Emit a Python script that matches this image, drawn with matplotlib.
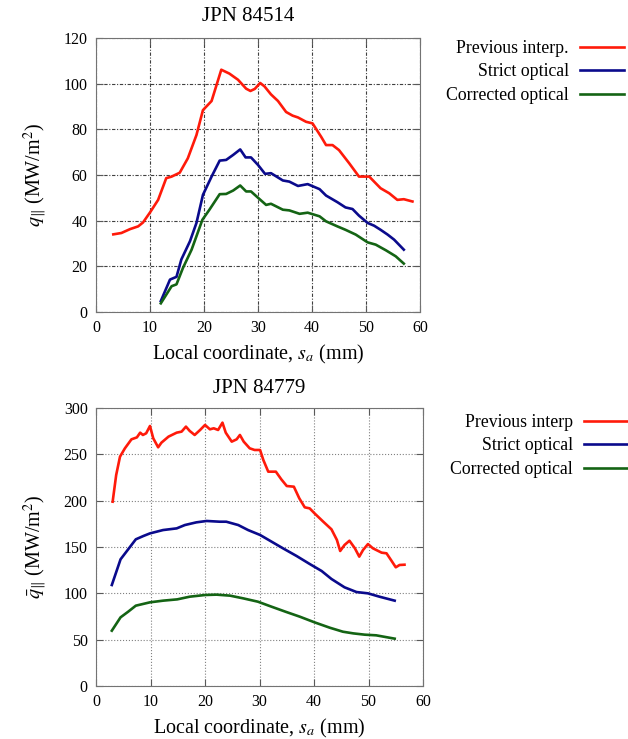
import numpy as np
import matplotlib
matplotlib.use('Agg')
import matplotlib.pyplot as plt

plt.rcParams['font.family'] = ['Liberation Serif', 'DejaVu Serif']
plt.rcParams['mathtext.fontset'] = 'stix'

# JPN 84514
x_prev1 = [3.2, 4.7, 6.3, 7.8, 8.7, 10.0, 11.5, 13.0, 14.0, 15.5, 17.0, 18.6, 19.8, 21.4, 23.2,
           24.7, 26.3, 27.8, 28.6, 29.4, 30.4, 31.2, 32.4, 33.7, 35.2, 36.4, 37.4, 38.9, 40.1,
           41.7, 42.6, 43.8, 45.0, 46.9, 48.7, 50.6, 51.5, 52.7, 54.3, 55.8, 57.0, 58.6]
y_prev1 = [34.0, 34.6, 36.3, 37.5, 39.2, 43.6, 49.1, 58.6, 59.3, 61.0, 67.3, 77.5, 88.4, 92.4, 106.1,
           104.4, 101.7, 97.8, 96.8, 97.7, 100.3, 98.8, 95.3, 92.4, 87.6, 86.0, 85.2, 83.3, 82.6,
           76.7, 73.1, 73.1, 70.9, 65.1, 59.3, 59.3, 57.1, 54.2, 52.0, 49.1, 49.4, 48.4]

x_strict1 = [12.0, 13.7, 14.9, 15.8, 17.4, 18.6, 19.8, 21.4, 22.9, 24.1, 25.4, 26.7, 27.7, 28.7,
             30.0, 31.3, 32.4, 34.6, 35.8, 37.4, 39.2, 41.4, 42.6, 44.7, 46.2, 47.5, 48.7, 50.3,
             51.5, 52.7, 54.0, 55.2, 57.0]
y_strict1 = [4.8, 14.2, 15.4, 23.0, 31.0, 39.0, 51.3, 59.3, 66.3, 66.6, 68.8, 71.2, 67.7, 67.7,
             64.4, 60.5, 60.8, 57.6, 57.1, 55.2, 56.0, 53.8, 51.0, 48.1, 45.8, 45.1, 42.2, 39.0,
             37.8, 36.0, 33.9, 31.7, 27.3]

x_corr1 = [12.0, 14.0, 14.9, 16.1, 17.7, 19.7, 21.0, 22.9, 24.1, 25.4, 26.7, 27.8, 28.7, 30.3,
           31.5, 32.4, 34.6, 35.8, 37.7, 39.2, 41.4, 42.6, 44.7, 46.2, 48.1, 50.3, 51.8, 53.7,
           55.5, 57.0]
y_corr1 = [3.8, 11.3, 12.1, 19.3, 27.3, 40.4, 44.8, 51.6, 51.7, 53.2, 55.4, 52.8, 52.8, 49.4,
           46.9, 47.4, 44.8, 44.5, 43.0, 43.5, 41.9, 39.7, 37.5, 36.0, 33.9, 30.5, 29.5, 27.0,
           24.4, 21.2]

# JPN 84779
x_prev2 = [3.05, 3.7, 4.4, 5.3, 6.5, 7.5, 8.1, 8.6, 9.2, 9.9, 10.5, 11.4, 12.0, 13.3, 14.8, 15.7,
           16.5, 17.2, 18.1, 19.1, 20.0, 20.9, 21.6, 22.4, 23.2, 23.8, 24.9, 25.8, 26.4, 27.1,
           28.2, 29.1, 30.1, 30.7, 31.6, 33.0, 34.0, 35.0, 36.3, 37.3, 38.3, 39.2, 40.1, 41.7,
           43.2, 44.2, 44.8, 45.6, 46.5, 47.5, 48.3, 49.0, 49.9, 50.8, 52.4, 53.3, 54.2, 55.0,
           55.7, 56.6]
y_prev2 = [198.9, 227.7, 247.5, 256.5, 266.2, 268.3, 273.4, 270.9, 272.7, 280.6, 267.3, 257.6,
           262.6, 269.1, 273.4, 274.5, 279.9, 275.2, 270.9, 276.3, 281.7, 277.0, 278.1, 276.3,
           284.2, 273.4, 263.7, 266.2, 270.9, 263.7, 256.5, 254.7, 254.7, 243.9, 231.3, 231.3,
           223.0, 215.8, 215.1, 202.5, 192.8, 191.7, 186.3, 177.3, 169.1, 157.6, 145.7, 152.2,
           156.8, 148.6, 139.6, 146.8, 153.2, 148.6, 143.9, 143.2, 135.3, 128.1, 130.6, 130.9]

x_strict2 = [2.9, 4.5, 5.9, 7.3, 8.7, 9.9, 12.3, 14.8, 16.3, 18.4, 20.3, 22.7, 23.9, 26.1, 27.9,
             30.1, 32.2, 34.3, 36.8, 39.2, 41.4, 43.2, 45.6, 47.8, 49.9, 52.0, 54.8]
y_strict2 = [109.0, 136.7, 147.5, 158.3, 161.9, 164.7, 168.3, 170.1, 173.7, 176.6, 178.1, 177.3,
             177.3, 173.7, 168.3, 163.0, 155.8, 148.6, 140.3, 131.7, 124.1, 115.5, 106.5, 101.4,
             100.0, 96.4, 92.1]

x_corr2 = [2.9, 4.5, 5.9, 7.3, 9.9, 12.3, 14.9, 17.2, 20.0, 22.1, 24.6, 27.0, 29.7, 32.2, 34.9,
           37.4, 40.1, 42.9, 45.3, 47.2, 49.3, 51.4, 54.8]
y_corr2 = [59.7, 74.1, 80.2, 86.7, 90.3, 92.1, 93.5, 96.4, 98.2, 98.6, 97.5, 94.6, 91.0, 85.6,
           79.9, 74.8, 68.7, 62.9, 58.6, 56.8, 55.4, 54.7, 51.1]

red = '#ff1a0a'
blue = '#0a0a8c'
green = '#146414'

fig = plt.figure(figsize=(6.28, 7.39), dpi=100)
ax1 = fig.add_axes([0.1529, 0.5778, 0.5159, 0.3708])
ax2 = fig.add_axes([0.1529, 0.0717, 0.5207, 0.3762])


def style(ax, grid_ls, grid_col):
    ax.set_xlim(0, 60)
    ax.set_xticks(np.arange(0, 61, 10))
    ax.grid(True, linestyle=grid_ls, color=grid_col, linewidth=0.8)
    ax.tick_params(direction='in', top=True, right=True, length=5, labelsize=11.5, colors='0.35',
                   labelcolor='black', pad=6)
    for s in ax.spines.values():
        s.set_color('0.45')
    ax.set_xlabel('Local coordinate, $s_a$ (mm)', fontsize=14.5, labelpad=5)


ax1.plot(x_prev1, y_prev1, color=red, lw=1.9, label='Previous interp.')
ax1.plot(x_strict1, y_strict1, color=blue, lw=1.9, label='Strict optical')
ax1.plot(x_corr1, y_corr1, color=green, lw=1.9, label='Corrected optical')
ax1.set_ylim(0, 120)
ax1.set_yticks(np.arange(0, 121, 20))
style(ax1, (0, (3, 1.5, 1, 1.5)), '0.25')
ax1.set_ylabel(r'$q_{\|}$ (MW/m$^2$)', fontsize=14.5, labelpad=10)
ax1.set_title('JPN 84514', fontsize=15, pad=12, x=0.47)

ax2.plot(x_prev2, y_prev2, color=red, lw=1.9, label='Previous interp')
ax2.plot(x_strict2, y_strict2, color=blue, lw=1.9, label='Strict optical')
ax2.plot(x_corr2, y_corr2, color=green, lw=1.9, label='Corrected optical')
ax2.set_ylim(0, 300)
ax2.set_yticks(np.arange(0, 301, 50))
style(ax2, ':', '0.5')
ax2.set_ylabel(r'$\bar{q}_{\|}$ (MW/m$^2$)', fontsize=14.5, labelpad=10)
ax2.set_title('JPN 84779', fontsize=15, pad=11)

for ax, anchor in [(ax1, (624 / 628, 1 - 40 / 739)), (ax2, (628 / 628, 1 - 414 / 739))]:
    leg = ax.legend(loc='upper right', bbox_to_anchor=anchor, bbox_transform=fig.transFigure,
                    frameon=False, markerfirst=False, fontsize=12.8, handlelength=2.5,
                    handletextpad=0.6, labelspacing=0.36, borderaxespad=0, borderpad=0)
    for col in leg._legend_handle_box.get_children():
        col.align = 'right'

fig.savefig('out.png', dpi=100)
